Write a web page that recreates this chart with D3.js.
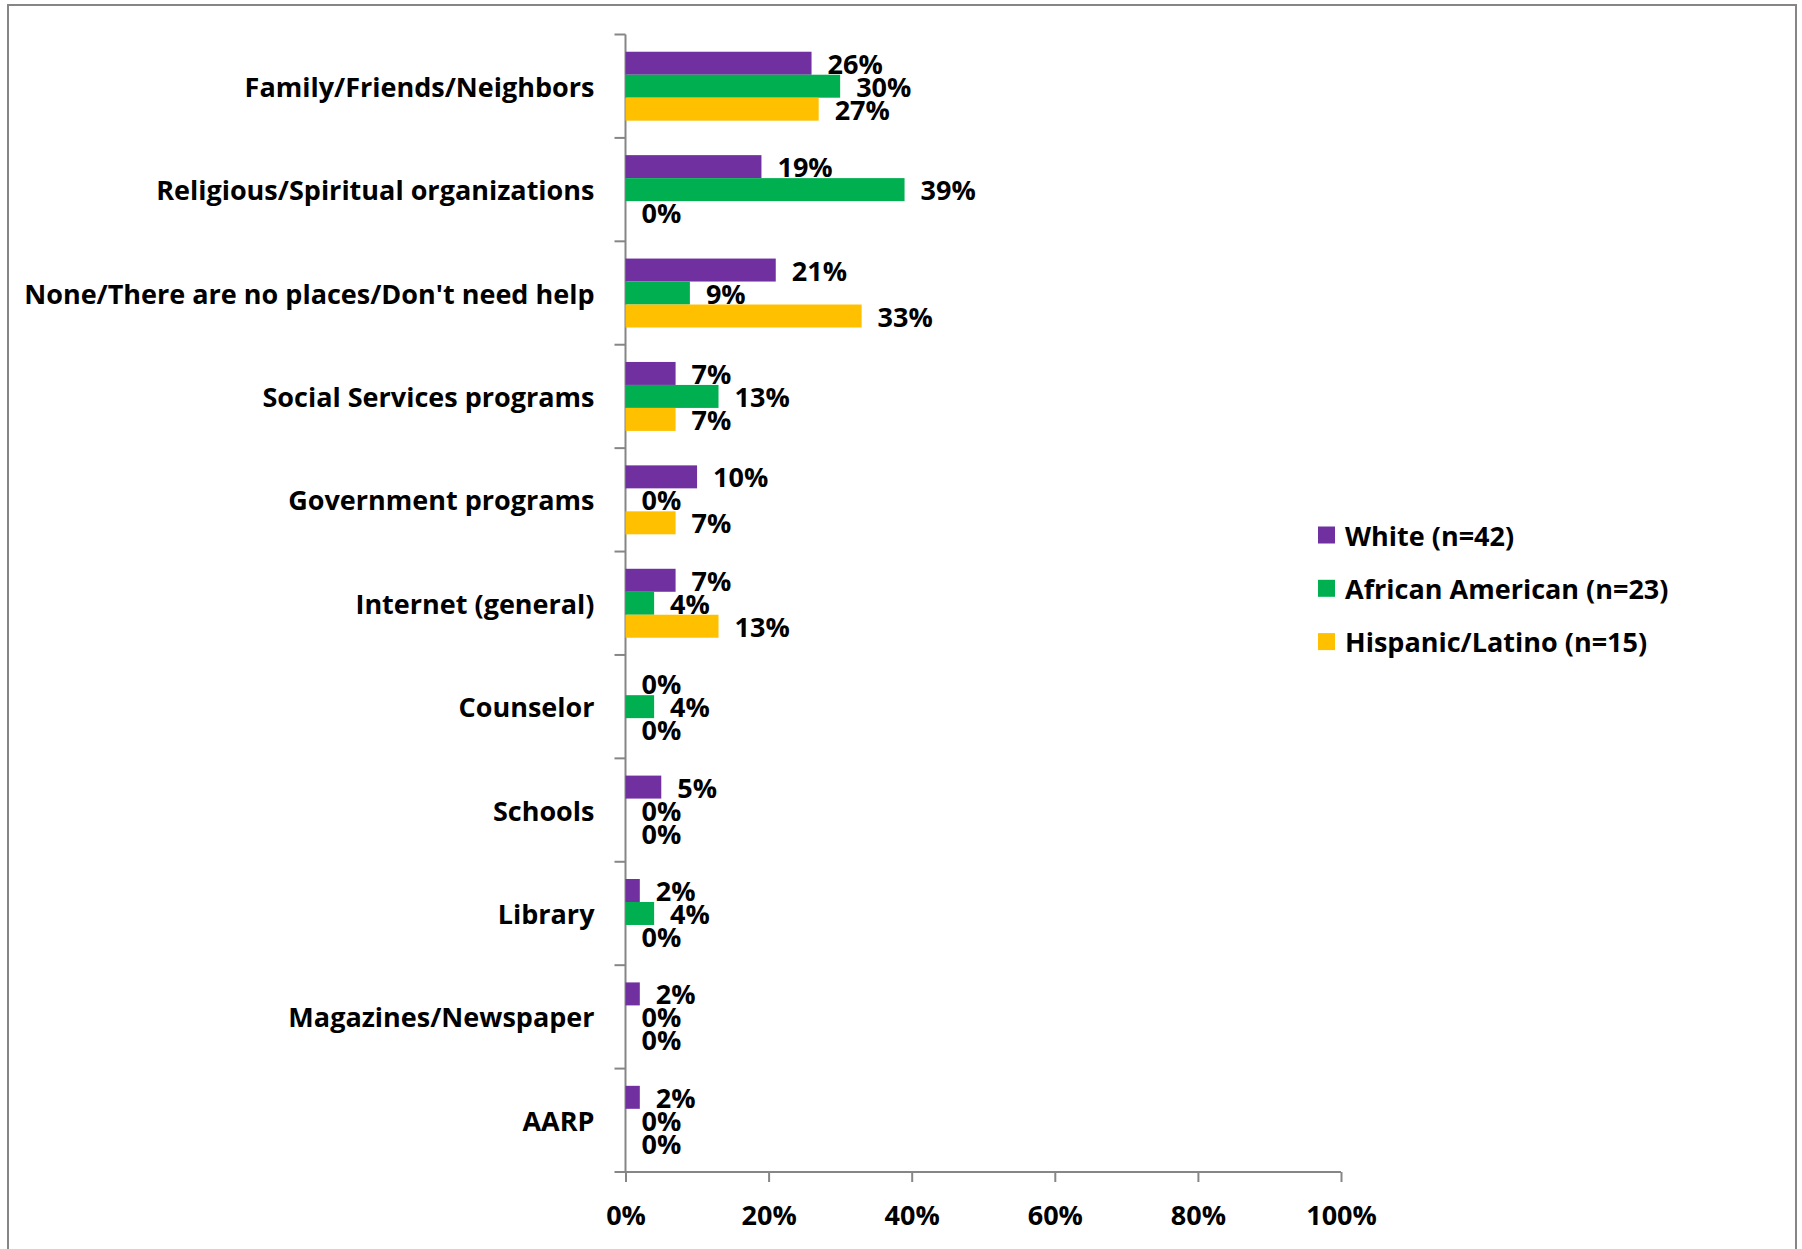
<!DOCTYPE html>
<html><head><meta charset="utf-8">
<script src="https://cdn.jsdelivr.net/npm/d3@7/dist/d3.min.js"></script>
<style>
html,body{margin:0;padding:0;background:#fff;}
svg text{font-family:"Open Sans",Lato,sans-serif;font-weight:700;fill:#000;}
</style></head>
<body>
<svg id="chart" width="1802" height="1249"></svg>
<script>
const categories = ["Family/Friends/Neighbors","Religious/Spiritual organizations","None/There are no places/Don't need help","Social Services programs","Government programs","Internet (general)","Counselor","Schools","Library","Magazines/Newspaper","AARP"];
const seriesNames = ["White (n=42)","African American (n=23)","Hispanic/Latino (n=15)"];
const white    = [26,19,21,7,10,7,0,5,2,2,2];
const african  = [30,39,9,13,0,4,4,0,4,0,0];
const hispanic = [27,0,33,7,7,13,0,0,0,0,0];
const seriesColors = ["#7030A0","#00B050","#FFC000"];
const xTicks = [0,20,40,60,80,100];

const svg = d3.select("#chart");
const axisColor = "#868686";
const fontSize = 27;

svg.append("rect").attr("x",8).attr("y",5).attr("width",1788).attr("height",1260)
  .attr("fill","none").attr("stroke",axisColor).attr("stroke-width",2);

const x = d3.scaleLinear().domain([0,100]).range([625.5,1341]);
const y = d3.scaleBand().domain(categories).range([34.5,1172]).paddingInner(0).paddingOuter(0);
const bw = y.bandwidth();
const barW = bw/4.5;
const ys = d3.scaleBand().domain(seriesNames).range([0.75*barW, 0.75*barW + 3*barW]);

const allSeries = [white, african, hispanic];
const rows = [];
categories.forEach((c,i)=>{
  seriesNames.forEach((s,j)=>{
    rows.push({cat:c, ser:s, j, v:allSeries[j][i]});
  });
});

// x axis
const xAxis = d3.axisBottom(x).tickValues(xTicks).tickSize(10).tickFormat(d=>d+"%");
const gx = svg.append("g").attr("transform","translate(0,1172)").call(xAxis);
gx.select(".domain").attr("stroke",axisColor).attr("stroke-width",2).attr("d",`M${x(0)},0H${x(100)}`);
gx.selectAll(".tick line").attr("stroke",axisColor).attr("stroke-width",2);
gx.selectAll(".tick text").attr("y",42).attr("dy",null).attr("dominant-baseline","central")
  .style("font-size",fontSize+"px");

// y axis line + ticks
svg.append("line").attr("x1",x(0)).attr("x2",x(0)).attr("y1",y.range()[0]).attr("y2",y.range()[1])
  .attr("stroke",axisColor).attr("stroke-width",2);
const bounds = categories.map(c=>y(c)).concat([y.range()[1]]);
svg.append("g").selectAll("line").data(bounds).join("line")
  .attr("x1",x(0)-11).attr("x2",x(0)).attr("y1",d=>d).attr("y2",d=>d)
  .attr("stroke",axisColor).attr("stroke-width",2);

// category labels
svg.append("g").selectAll("text").data(categories).join("text")
  .attr("x",x(0)-31).attr("y",c=>y(c)+bw/2).attr("text-anchor","end")
  .attr("dominant-baseline","central").style("font-size",fontSize+"px").text(c=>c);

// bars
svg.append("g").selectAll("rect").data(rows).join("rect")
  .attr("x",x(0)).attr("y",d=>y(d.cat)+ys(d.ser))
  .attr("width",d=>x(d.v)-x(0)).attr("height",ys.bandwidth())
  .attr("fill",d=>seriesColors[d.j]);

// data labels
svg.append("g").selectAll("text").data(rows).join("text")
  .attr("x",d=>x(d.v)+16).attr("y",d=>y(d.cat)+ys(d.ser)+ys.bandwidth()/2)
  .attr("dominant-baseline","central").style("font-size",fontSize+"px")
  .text(d=>d.v+"%");

// legend
const lg = svg.append("g");
seriesNames.forEach((s,j)=>{
  const cy = 535 + j*53.3;
  lg.append("rect").attr("x",1318).attr("y",cy-8.5).attr("width",17).attr("height",17).attr("fill",seriesColors[j]);
  lg.append("text").attr("x",1345).attr("y",cy).attr("dominant-baseline","central")
    .style("font-size",fontSize+"px").text(s);
});
</script>
</body></html>
